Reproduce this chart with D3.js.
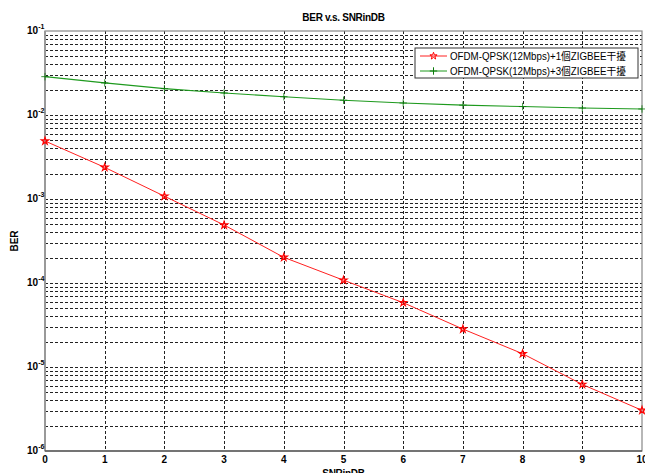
<!DOCTYPE html>
<html><head><meta charset="utf-8">
<script src="https://cdn.jsdelivr.net/npm/d3@7"></script>
<style>body{margin:0;background:#fff;} svg{display:block;}</style>
</head><body>
<svg id="c" width="645" height="473"></svg>
<script>
const snr = [0,1,2,3,4,5,6,7,8,9,10];
const ber1 = [4.9e-3, 2.38e-3, 1.08e-3, 4.9e-4, 2.02e-4, 1.08e-4, 5.83e-5, 2.83e-5, 1.44e-5, 6.2e-6, 3.05e-6];
const ber3 = [2.86e-2, 2.41e-2, 2.06e-2, 1.83e-2, 1.65e-2, 1.5e-2, 1.39e-2, 1.31e-2, 1.26e-2, 1.21e-2, 1.18e-2];
const seriesNames = ["OFDM-QPSK(12Mbps)+1個ZIGBEE干擾", "OFDM-QPSK(12Mbps)+3個ZIGBEE干擾"];
const xTicks = [0,1,2,3,4,5,6,7,8,9,10];
const yExps = [-1,-2,-3,-4,-5,-6];
const titleText = "BER v.s. SNRinDB", xLabel = "SNRinDB", yLabel = "BER";

const svg = d3.select("#c");
const L=45, R=642, T=31, B=451;
const x = d3.scaleLinear().domain([0,10]).range([L,R]);
const y = d3.scaleLog().domain([1e-6,1e-1]).range([B,T]);
const font = "'Liberation Sans', Arial, sans-serif";

// grid
const gridVals = [];
for (let e=-6; e<=-2; e++) for (let k=1;k<=9;k++) gridVals.push(k*Math.pow(10,e));
const g = svg.append("g");
g.selectAll("line.h").data(gridVals.filter(v=>v>1e-6)).enter().append("line")
  .attr("x1",L).attr("x2",R).attr("y1",d=>Math.round(y(d))+0.5).attr("y2",d=>Math.round(y(d))+0.5)
  .attr("stroke","#222").attr("stroke-width",1).attr("stroke-dasharray","3,2");
g.selectAll("line.v").data(xTicks.filter(v=>v>0&&v<10)).enter().append("line")
  .attr("y1",T).attr("y2",B).attr("x1",d=>Math.round(x(d))+0.5).attr("x2",d=>Math.round(x(d))+0.5)
  .attr("stroke","#222").attr("stroke-width",1).attr("stroke-dasharray","3,2");

// frame
svg.append("rect").attr("x",L).attr("y",T).attr("width",R-L).attr("height",B-T)
  .attr("fill","none").attr("stroke","#888").attr("stroke-width",1.2);
svg.append("line").attr("x1",L).attr("x2",L).attr("y1",T).attr("y2",B).attr("stroke","#999").attr("stroke-width",2);
svg.append("line").attr("x1",L).attr("x2",R).attr("y1",B).attr("y2",B).attr("stroke","#333").attr("stroke-width",1.2);

// lines
const line = d3.line().x((d,i)=>x(snr[i])).y(d=>y(d));
svg.append("path").datum(ber1).attr("d",line).attr("fill","none").attr("stroke","#ff2020").attr("stroke-width",1);
svg.append("path").datum(ber3).attr("d",line).attr("fill","none").attr("stroke","#1e9a1e").attr("stroke-width",1.1);
const star = d3.symbol().type(d3.symbolStar).size(16);
const ast = d3.symbol().type(d3.symbolPlus).size(20);
svg.selectAll("path.s1").data(ber1).enter().append("path").attr("d",star)
  .attr("transform",(d,i)=>`translate(${x(snr[i])},${y(d)})`)
  .attr("fill","none").attr("stroke","#ff0000").attr("stroke-width",1.2);
svg.selectAll("path.s3").data(ber3).enter().append("path").attr("d",ast)
  .attr("transform",(d,i)=>`translate(${x(snr[i])},${y(d)})`)
  .attr("fill","#0a7a0a").attr("stroke","#0a7a0a").attr("stroke-width",0.8);

// x tick labels
svg.selectAll("text.xt").data(xTicks).enter().append("text")
  .attr("x",d=>x(d)).attr("y",463).attr("text-anchor","middle")
  .attr("font-family",font).attr("font-size",10).attr("font-weight","bold").text(d=>d);
// y tick labels
const yt = svg.selectAll("text.yt").data(yExps).enter().append("text")
  .attr("x",27).attr("y",d=>y(Math.pow(10,d))+3)
  .attr("font-family",font).attr("font-size",10).attr("font-weight","bold");
yt.append("tspan").text("10");
yt.append("tspan").attr("font-size",7).attr("dy",-5).text(d=>String(d));

// titles
svg.append("text").attr("x",(L+R)/2).attr("y",21).attr("text-anchor","middle")
  .attr("font-family",font).attr("font-size",10).attr("font-weight","bold").attr("letter-spacing",-0.3).text(titleText);
svg.append("text").attr("x",(L+R)/2).attr("y",477).attr("text-anchor","middle")
  .attr("font-family",font).attr("font-size",10).attr("font-weight","bold").attr("letter-spacing",-0.3).text(xLabel);
svg.append("text").attr("transform",`translate(18,${(T+B)/2}) rotate(-90)`).attr("text-anchor","middle")
  .attr("font-family",font).attr("font-size",10).attr("font-weight","bold").text(yLabel);

// legend
const lg = svg.append("g");
lg.append("rect").attr("x",415).attr("y",48).attr("width",223).attr("height",30)
  .attr("fill","#fff").attr("stroke","#333").attr("stroke-width",1);
const rows = [{n:seriesNames[0],c:"#ff2020",m:star,mc:"#ff0000",f:"none"},{n:seriesNames[1],c:"#1e9a1e",m:ast,mc:"#0a7a0a",f:"#0a7a0a"}];
rows.forEach((r,i)=>{
  const yy = 56 + i*15;
  lg.append("line").attr("x1",420).attr("x2",447).attr("y1",yy).attr("y2",yy).attr("stroke",r.c).attr("stroke-width",1);
  lg.append("path").attr("d",r.m).attr("transform",`translate(433.5,${yy})`).attr("fill",r.f).attr("stroke",r.mc).attr("stroke-width",1);
  lg.append("text").attr("x",450).attr("y",yy+4).attr("font-family","'Liberation Sans', 'Noto Sans CJK TC', Arial, sans-serif")
    .attr("font-size",10.5).attr("textLength",176).attr("lengthAdjust","spacingAndGlyphs").text(r.n);
});
</script>
</body></html>
